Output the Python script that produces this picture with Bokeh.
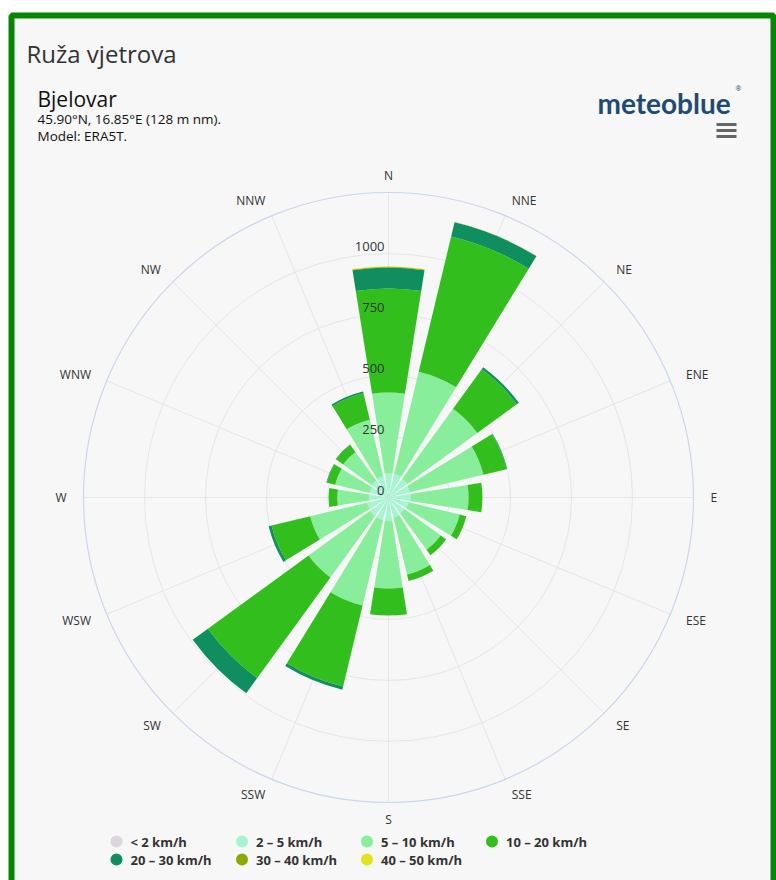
import numpy as np
from bokeh.plotting import figure
from bokeh.models import Range1d, ColumnDataSource
from bokeh.core.properties import value
from bokeh.embed import file_html
from bokeh.resources import INLINE

# ---------------- data (hours per direction, per speed class) ----------------
directions = ["N", "NNE", "NE", "ENE", "E", "ESE", "SE", "SSE",
              "S", "SSW", "SW", "WSW", "W", "WNW", "NW", "NNW"]
speed_classes = ["< 2 km/h", "2 – 5 km/h", "5 – 10 km/h", "10 – 20 km/h",
                 "20 – 30 km/h", "30 – 40 km/h", "40 – 50 km/h"]
s_lt2 = [8, 9, 7, 6, 6, 5, 5, 5, 6, 7, 8, 7, 6, 5, 6, 7]
s_2_5 = [92, 91, 88, 84, 84, 80, 75, 80, 89, 88, 87, 83, 74, 75, 79, 83]
s_5_10 = [330, 430, 355, 310, 238, 215, 185, 240, 278, 360, 310, 240, 130, 145, 145, 238]
s_10_20 = [427, 570, 200, 98, 57, 28, 27, 27, 111, 342, 510, 163, 36, 35, 36, 111]
s_20_30 = [86, 60, 10, 2, 0, 0, 0, 0, 0, 13, 77, 12, 0, 2, 2, 8]
s_30_40 = [3, 1, 0, 0, 0, 0, 0, 0, 0, 0, 0, 0, 0, 0, 0, 0]
s_40_50 = [2, 0, 0, 0, 0, 0, 0, 0, 0, 0, 0, 0, 0, 0, 0, 0]
radial_ticks = [0, 250, 500, 750, 1000]
radial_max = 1250
colors = ["#dcd5dc", "#a6f4d2", "#88ee9c", "#32bf1e", "#0f8f60", "#8aaa00", "#e4e21a"]

# ---------------- layout helpers (page pixel -> data units) ----------------
W, H = 776, 880
CX, CY = 388.0, 497.0           # centre of the rose on the page
R_PX = 305.0                    # pixel radius of radial_max
UPP = radial_max / R_PX         # data units per pixel


def X(px):
    return (px - CX) * UPP


def Y(py):
    return (CY - py) * UPP


p = figure(width=W, height=H, output_backend="svg", toolbar_location=None,
           x_range=Range1d(X(0), X(W)), y_range=Range1d(Y(H), Y(0)),
           x_axis_type=None, y_axis_type=None, min_border=0,
           background_fill_color="white", border_fill_color="white",
           outline_line_color=None)
p.grid.visible = False

FONT = value("Open Sans")

# frame with green border
p.quad(left=[X(11)], right=[X(773)], top=[Y(15)], bottom=[Y(905)],
       fill_color="#f7f7f7", line_color="#078507", line_width=6)

# ---------------- polar grid ----------------
az = np.arange(len(directions)) * 360.0 / len(directions)
az_r = np.deg2rad(az)
p.segment(x0=np.zeros(16), y0=np.zeros(16),
          x1=radial_max * np.sin(az_r), y1=radial_max * np.cos(az_r),
          line_color="#e6e6e6", line_width=1)
p.circle(x=[0] * 4, y=[0] * 4, radius=radial_ticks[1:], fill_color=None,
         line_color="#e6e6e6", line_width=1)
p.circle(x=[0], y=[0], radius=[radial_max], fill_color=None,
         line_color="#ccd6eb", line_width=1.2)

# ---------------- stacked wedges ----------------
half = 9.0
start = np.deg2rad(90 - az - half)
end = np.deg2rad(90 - az + half)
cum = np.zeros(16)
for vals, col in zip([s_lt2, s_2_5, s_5_10, s_10_20, s_20_30, s_30_40, s_40_50], colors):
    v = np.array(vals, dtype=float)
    inner = cum.copy()
    cum = cum + v
    m = v > 0
    src = ColumnDataSource(dict(inner=inner[m], outer=cum[m], s=start[m], e=end[m]))
    p.annular_wedge(x=0, y=0, inner_radius="inner", outer_radius="outer",
                    start_angle="s", end_angle="e", source=src,
                    fill_color=col, line_color=None)

# ---------------- radial tick labels ----------------
p.text(x=[X(384)] * len(radial_ticks), y=[t + 7 * UPP for t in radial_ticks],
       text=[str(t) for t in radial_ticks], text_font=FONT, text_font_size="13px",
       text_color="#333333", text_align="right", text_baseline="middle")

# ---------------- direction labels ----------------
r_lab = 322 * UPP
for name, a in zip(directions, az):
    if a == 0 or a == 180:
        al = "center"
    elif a < 180:
        al = "left"
    else:
        al = "right"
    p.text(x=[r_lab * np.sin(np.deg2rad(a))], y=[r_lab * np.cos(np.deg2rad(a))],
           text=[name], text_font=FONT, text_font_size="12px", text_color="#333333",
           text_align=al, text_baseline="middle")

# ---------------- titles ----------------
p.text(x=[X(26)], y=[Y(53)], text=["Ruža vjetrova"], text_font=FONT,
       text_font_size="24px", text_color="#333333", text_baseline="alphabetic")
p.text(x=[X(37)], y=[Y(98)], text=["Bjelovar"], text_font=FONT,
       text_font_size="21px", text_color="#111111", text_baseline="alphabetic")
p.text(x=[X(37), X(37)], y=[Y(118), Y(135)],
       text=["45.90°N, 16.85°E (128 m nm).", "Model: ERA5T."], text_font=FONT,
       text_font_size="13.5px", text_color="#111111", text_baseline="alphabetic")

# logo + menu icon
p.text(x=[X(597)], y=[Y(102)], text=["meteoblue"], text_font=value("Lato"),
       text_font_size="28px", text_font_style="bold", text_color="#1f4a74",
       text_baseline="alphabetic")
p.text(x=[X(735)], y=[Y(88)], text=["®"], text_font=FONT,
       text_font_size="7px", text_color="#1f4a74", text_baseline="alphabetic")
p.segment(x0=[X(716)] * 3, x1=[X(736)] * 3, y0=[Y(124), Y(130), Y(136)],
          y1=[Y(124), Y(130), Y(136)], line_color="#666666", line_width=3)

# ---------------- legend ----------------
leg_x = [116, 241.5, 366.5, 491.5, 116, 241.5, 366.5]
leg_y = [841, 841, 841, 841, 859, 859, 859]
p.scatter(x=[X(v) for v in leg_x], y=[Y(v) for v in leg_y], size=12,
          marker="circle", fill_color=colors, line_color=None)
p.text(x=[X(v + 14) for v in leg_x], y=[Y(v) for v in leg_y], text=speed_classes,
       text_font=FONT, text_font_size="13px", text_font_style="bold",
       text_color="#333333", text_baseline="middle")

open("out.html", "w").write(file_html(p, INLINE))
